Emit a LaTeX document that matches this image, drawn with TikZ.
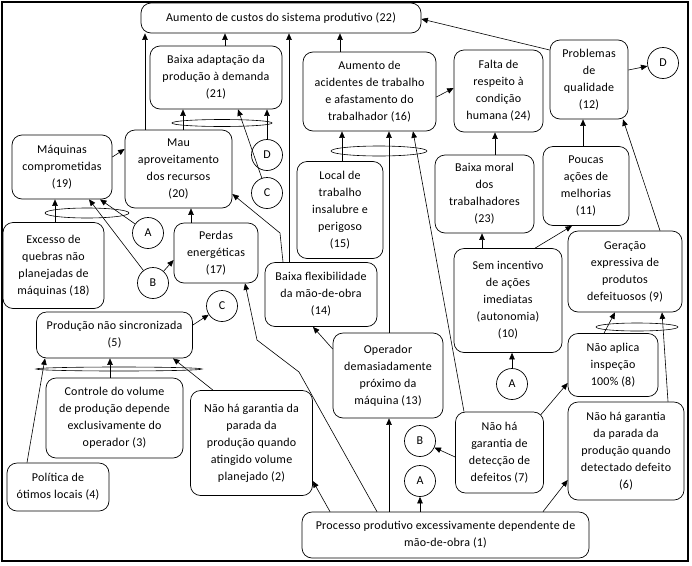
\documentclass[tikz,border=0pt]{standalone}
\usepackage{fontspec}
\setmainfont{Carlito}[LetterSpace=2]
\usetikzlibrary{arrows.meta,calc}
\begin{document}
\begin{tikzpicture}[x=1pt,y=-1pt,
  box/.style={draw, rounded corners=10pt, align=center, inner sep=0pt, font=\fontsize{12}{17}\selectfont, line width=0.7pt},
  circ/.style={draw, circle, minimum size=31pt, inner sep=0pt, font=\fontsize{12}{14}\selectfont, line width=0.7pt},
  arr/.style={-{Triangle[length=6.5pt,width=5.5pt]}, line width=0.6pt},
  andg/.style={line width=0.6pt}]
\useasboundingbox (0,0) rectangle (692,565);
\draw[line width=1.2pt] (2,2) rectangle (688,561);
% boxes
\node[box, minimum width=280pt, minimum height=30pt] (n22) at (281,18) {Aumento de custos do sistema produtivo (22)};
\node[box, minimum width=132pt, minimum height=63pt] (n21) at (216,77.5) {Baixa adaptação da\\produção à demanda\\(21)};
\node[box, minimum width=133pt, minimum height=79pt] (n16) at (369.5,91.5) {Aumento de\\acidentes de trabalho\\e afastamento do\\trabalhador (16)};
\node[box, minimum width=89pt, minimum height=82pt] (n24) at (498.5,91) {Falta de\\respeito à\\condição\\humana (24)};
\node[box, minimum width=78pt, minimum height=79pt] (n12) at (589,79.5) {Problemas\\de\\qualidade\\(12)};
\node[box, minimum width=100pt, minimum height=64pt] (n19) at (62,167) {Máquinas\\comprometidas\\(19)};
\node[box, minimum width=107pt, minimum height=78pt] (n20) at (178.5,169) {Mau\\aproveitamento\\dos recursos\\(20)};
\node[box, minimum width=86pt, minimum height=97pt] (n15) at (340,210) {Local de\\trabalho\\insalubre e\\perigoso\\(15)};
\node[box, minimum width=99pt, minimum height=78pt] (n23) at (484.5,194) {Baixa moral\\dos\\trabalhadores\\(23)};
\node[box, minimum width=86pt, minimum height=79pt] (n11) at (586,186) {Poucas\\ações de\\melhorias\\(11)};
\node[box, minimum width=101pt, minimum height=86pt] (n18) at (53.5,265.5) {Excesso de\\quebras não\\planejadas de\\máquinas (18)};
\node[box, minimum width=84pt, minimum height=60pt] (n17) at (216,253) {Perdas\\energéticas\\(17)};
\node[box, minimum width=112pt, minimum height=64pt] (n14) at (321,294.5) {Baixa flexibilidade\\da mão-de-obra\\(14)};
\node[box, minimum width=108pt, minimum height=104pt] (n10) at (508,300.5) {Sem incentivo\\de ações\\imediatas\\(autonomia)\\(10)};
\node[box, minimum width=114pt, minimum height=81pt] (n9) at (625,271.5) {Geração\\expressiva de\\produtos\\defeituosos (9)};
\node[box, minimum width=156pt, minimum height=46pt] (n5) at (114.5,335) {Produção não sincronizada\\(5)};
\node[box, minimum width=110pt, minimum height=85pt] (n13) at (388,375.5) {Operador\\demasiadamente\\próximo da\\máquina (13)};
\node[box, minimum width=90pt, minimum height=63pt] (n8) at (613,365) {Não aplica\\inspeção\\100\% (8)};
\node[box, minimum width=137pt, minimum height=80pt] (n3) at (114.5,418) {Controle do volume\\de produção depende\\exclusivamente do\\operador (3)};
\node[box, minimum width=122pt, minimum height=105pt] (n2) at (251.5,443) {Não há garantia da\\parada da\\produção quando\\atingido volume\\planejado (2)};
\node[box, minimum width=88pt, minimum height=81pt] (n7) at (499.5,452.5) {Não há\\garantia de\\detecção de\\defeitos (7)};
\node[box, minimum width=116pt, minimum height=98pt] (n6) at (626,451) {Não há garantia\\da parada da\\produção quando\\detectado defeito\\(6)};
\node[box, minimum width=102pt, minimum height=48pt] (n4) at (58,487) {Política de\\ótimos locais (4)};
\node[box, minimum width=287pt, minimum height=46pt] (n1) at (445.5,535) {Processo produtivo excessivamente dependente de\\mão-de-obra (1)};
% circles
\node[circ] (dD2) at (663,63) {D};
\node[circ] (dD1) at (267,155) {D};
\node[circ] (dC1) at (267,193) {C};
\node[circ] (dA1) at (148,233) {A};
\node[circ] (dB1) at (153,283) {B};
\node[circ] (dC2) at (222,306) {C};
\node[circ] (dA3) at (512,384) {A};
\node[circ] (dB2) at (420,441) {B};
\node[circ] (dA2) at (420,481) {A};
% AND ellipses
\draw[andg] (222,123) ellipse (50 and 3.5);
\draw[andg] (87,213) ellipse (42 and 5);
\draw[andg] (379,151) ellipse (48 and 5);
\draw[andg] (637,327) ellipse (41 and 4);
\draw[andg] (119,369) ellipse (83 and 2);
% connectors into 22
\draw[arr] (n20.north -| 145,0) -- (n22.south -| 145,0);
\draw[arr] (n21.north -| 225,0) -- (n22.south -| 225,0);
\draw[arr] (n14.north -| 289,0) -- (n22.south -| 289,0);
\draw[arr] (n16.north -| 340,0) -- (n22.south -| 340,0);
\draw[arr] (n12.west |- 0,50) -- (n22.east |- 0,19);
\draw[arr] (n12.east |- 0,70) -- (dD2);
% into 21
\draw[arr] (n20.north -| 183,0) -- (n21.south -| 183,0);
\draw[arr] (dC1) -- (n21.south -| 238,0);
\draw[arr] (dD1) -- (n21.south -| dD1);
% into 20
\draw[arr] (n19.east |- 0,157) -- (n20.west |- 0,149);
\draw[arr] (n14.north -| 283,0) -- (280,233) -- (n20.east |- 0,194);
\draw[arr] (n17.north -| 191,0) -- (n20.south -| 191,0);
% into 19
\draw[arr] (n18.north -| 55,0) -- (n19.south -| 55,0);
\draw[arr] (dA1) -- (n19.south -| 100,0);
\draw[arr] (dB1) -- (n19.south -| 89,0);
% into 17
\draw[arr] (dB1) -- (n17.west |- 0,260);
\draw[arr] (n1.north -| 377,0) -- (299,372) -- (257,340) -- (n17.south -| 245,0);
% C from 5
\draw[arr] (n5.east |- 0,325) -- (dC2);
% into 16
\draw[arr] (n13.north -| 389,0) -- (n16.south -| 389,0);
\draw[arr] (n15.north -| 342,0) -- (n16.south -| 342,0);
\draw[arr] (n7.north -| 464,0) -- (n16.south -| 413,0);
% into 24
\draw[arr] (n16.east |- 0,97) -- (n24.west |- 0,88);
\draw[arr] (n23.north -| 495,0) -- (n24.south -| 495,0);
% into 12
\draw[arr] (n11.north -| 583,0) -- (n12.south -| 583,0);
\draw[arr] (n9.north -| 660,0) -- (n12.south -| 623,0);
% from 10
\draw[arr] (n10.north -| 482,0) -- (n23.south -| 482,0);
\draw[arr] (n10.north -| 535,0) -- (n11.south -| 572,0);
% into 9
\draw[arr] (n8.north -| 604,0) -- (n9.south -| 615,0);
\draw[arr] (n6.north -| 668,0) -- (n9.south -| 662,0);
% into 10
\draw[arr] (dA3) -- (n10.south -| dA3);
% into 14, 13
\draw[arr] (n13.west |- 0,349) -- (n14.south -| 313,0);
\draw[arr] (n1.north -| 389,0) -- (n13.south -| 389,0);
% from 7
\draw[arr] ($(n7.north east)+(-3,3)$) -- (n8.west |- 0,383);
\draw[arr] (n7.west |- 0,457) -- (dB2);
% from 1
\draw[arr] (n1.north -| dA2) -- (dA2);
\draw[arr] (n1.north -| 543,0) -- (n6.west |- 0,480);
\draw[arr] (n1.north -| 330,0) -- (n2.east |- 0,481);
% into 5
\draw[arr] (n4.north -| 27,0) -- (n5.south -| 45,0);
\draw[arr] (n3.north -| 110,0) -- (n5.south -| 110,0);
\draw[arr] (n2.north -| 213,0) -- (n5.south -| 173,0);
\end{tikzpicture}
\end{document}
